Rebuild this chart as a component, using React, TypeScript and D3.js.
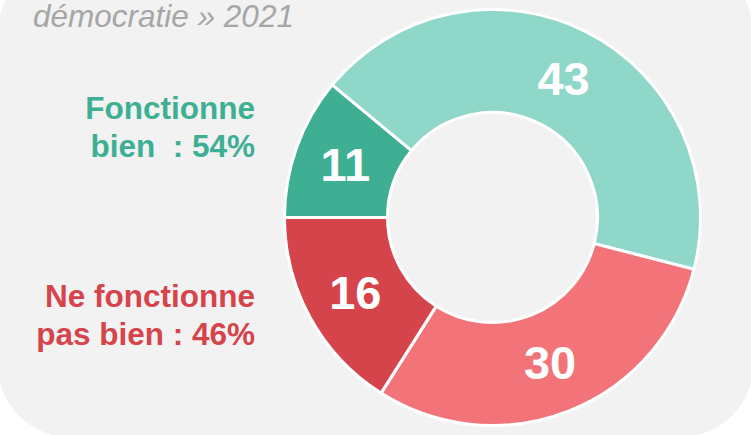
import * as d3 from "d3"

const categories = ["Fonctionne très bien", "Fonctionne plutôt bien", "Ne fonctionne plutôt pas bien", "Ne fonctionne pas bien du tout"]
const values = [11, 43, 30, 16]
const colors = ["#3faf94", "#8fd7c9", "#f27478", "#d6444b"]

const greenLines = ["Fonctionne", "bien\u00a0\u00a0: 54%"]
const redLines = ["Ne fonctionne", "pas bien : 46%"]
const titleText = "démocratie » 2021"

const W = 751
const H = 435
const font = "'Liberation Sans', Arial, sans-serif"

export default function App() {
  const cx = 492.5
  const cy = 217.5
  const outerR = 208
  const innerR = 105

  const pie = d3
    .pie<number>()
    .sort(null)
    .startAngle(-Math.PI / 2)
    .endAngle((3 * Math.PI) / 2)
    .value((d) => d)

  const arc = d3.arc<d3.PieArcDatum<number>>().innerRadius(innerR).outerRadius(outerR)
  const arcs = pie(values)

  return (
    <svg width={W} height={H} style={{ position: "absolute", left: 0, top: 0 }}>
      <rect x={0} y={0} width={W} height={H} fill="#ffffff" />
      <rect x={-2} y={-40} width={755} height={477} rx={72} ry={72} fill="#f2f2f2" />

      <text x={33} y={27} fontFamily={font} fontStyle="italic" fontSize={31.5} fill="#a6a6a6">
        {titleText}
      </text>

      <g transform={`translate(${cx},${cy})`}>
        {arcs.map((a, i) => (
          <path key={categories[i]} d={arc(a) || ""} fill={colors[i]} stroke="#ffffff" strokeWidth={3} />
        ))}
        {arcs.map((a, i) => {
          const [x, y] = arc.centroid(a)
          return (
            <text
              key={"l" + i}
              x={x}
              y={y}
              dy="0.35em"
              textAnchor="middle"
              fontFamily={font}
              fontWeight="bold"
              fontSize={47}
              fill="#ffffff"
            >
              {values[i]}
            </text>
          )
        })}
      </g>

      {greenLines.map((t, i) => (
        <text key={"g" + i} x={255} y={118.5 + i * 38.5} textAnchor="end" fontFamily={font} fontWeight="bold" fontSize={31.5} fill={colors[0]}>
          {t}
        </text>
      ))}
      {redLines.map((t, i) => (
        <text key={"r" + i} x={255} y={307 + i * 38} textAnchor="end" fontFamily={font} fontWeight="bold" fontSize={31.5} fill={colors[3]}>
          {t}
        </text>
      ))}
    </svg>
  )
}
